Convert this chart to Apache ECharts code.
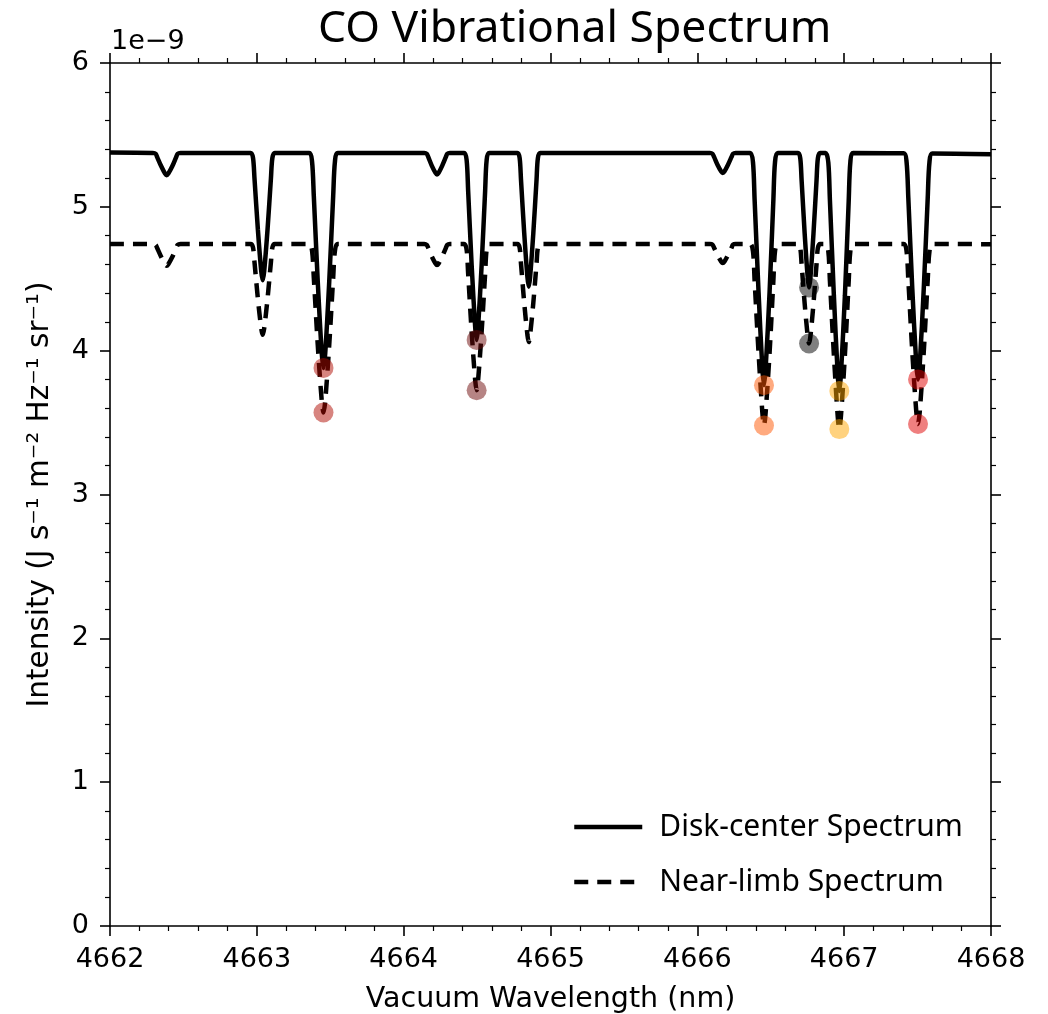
<!DOCTYPE html>
<html>
<head>
<meta charset="utf-8">
<script src="https://cdn.jsdelivr.net/npm/echarts/dist/echarts.min.js"></script>
<style>
html,body{margin:0;padding:0;background:#fff;}
#chart{width:1048px;height:1014px;}
</style>
</head>
<body>
<div id="chart"></div>
<script>
// Wavelength samples (nm) shared by both spectra
const wavelength = [
  4662.000,
  4662.292, 4662.311, 4662.322, 4662.349, 4662.375, 4662.386, 4662.397, 4662.424, 4662.450, 4662.461, 4662.480,
  4662.958, 4662.974, 4662.984, 4663.007, 4663.030, 4663.040, 4663.050, 4663.073, 4663.096, 4663.106, 4663.122,
  4663.357, 4663.376, 4663.388, 4663.415, 4663.442, 4663.454, 4663.466, 4663.493, 4663.520, 4663.532, 4663.551,
  4664.140, 4664.157, 4664.168, 4664.192, 4664.217, 4664.227, 4664.238, 4664.262, 4664.287, 4664.297, 4664.315,
  4664.412, 4664.429, 4664.439, 4664.463, 4664.487, 4664.497, 4664.507, 4664.531, 4664.555, 4664.565, 4664.582,
  4664.775, 4664.790, 4664.799, 4664.821, 4664.843, 4664.852, 4664.861, 4664.883, 4664.905, 4664.914, 4664.930,
  4666.086, 4666.103, 4666.114, 4666.138, 4666.163, 4666.173, 4666.184, 4666.208, 4666.233, 4666.243, 4666.261,
  4666.360, 4666.379, 4666.390, 4666.417, 4666.443, 4666.454, 4666.465, 4666.492, 4666.518, 4666.529, 4666.548,
  4666.686, 4666.701, 4666.710, 4666.731, 4666.752, 4666.761, 4666.770, 4666.791, 4666.812, 4666.821, 4666.836,
  4666.873, 4666.892, 4666.903, 4666.930, 4666.956, 4666.967, 4666.978, 4667.005, 4667.031, 4667.042, 4667.061,
  4667.406, 4667.425, 4667.437, 4667.464, 4667.491, 4667.503, 4667.515, 4667.542, 4667.569, 4667.581, 4667.601,
  4668.000
];
// Disk-center intensity (units of 1e-9 J s^-1 m^-2 Hz^-1 sr^-1)
const diskCenter = [
  5.378,
  5.375, 5.369, 5.344, 5.282, 5.231, 5.220, 5.231, 5.282, 5.344, 5.369, 5.375,
  5.375, 5.340, 5.198, 4.844, 4.552, 4.490, 4.552, 4.844, 5.198, 5.340, 5.375,
  5.375, 5.315, 5.076, 4.478, 3.985, 3.880, 3.985, 4.478, 5.076, 5.315, 5.375,
  5.375, 5.369, 5.345, 5.285, 5.236, 5.225, 5.236, 5.285, 5.345, 5.369, 5.375,
  5.375, 5.323, 5.115, 4.595, 4.166, 4.075, 4.166, 4.595, 5.115, 5.323, 5.375,
  5.375, 5.338, 5.189, 4.817, 4.510, 4.445, 4.510, 4.817, 5.189, 5.338, 5.375,
  5.375, 5.369, 5.347, 5.291, 5.245, 5.235, 5.245, 5.291, 5.347, 5.369, 5.375,
  5.375, 5.310, 5.052, 4.406, 3.873, 3.760, 3.873, 4.406, 5.052, 5.310, 5.375,
  5.375, 5.338, 5.188, 4.814, 4.505, 4.440, 4.505, 4.814, 5.188, 5.338, 5.375,
  5.375, 5.309, 5.044, 4.382, 3.836, 3.720, 3.836, 4.382, 5.044, 5.309, 5.375,
  5.372, 5.312, 5.060, 4.430, 3.910, 3.800, 3.910, 4.430, 5.060, 5.312, 5.370,
  5.365
];
// Near-limb intensity (units of 1e-9)
const nearLimb = [
  4.742,
  4.742, 4.736, 4.712, 4.651, 4.601, 4.590, 4.601, 4.651, 4.712, 4.736, 4.742,
  4.742, 4.717, 4.616, 4.363, 4.154, 4.110, 4.154, 4.363, 4.616, 4.717, 4.742,
  4.742, 4.695, 4.508, 4.039, 3.652, 3.570, 3.652, 4.039, 4.508, 4.695, 4.742,
  4.742, 4.736, 4.713, 4.654, 4.606, 4.596, 4.606, 4.654, 4.713, 4.736, 4.742,
  4.742, 4.701, 4.539, 4.132, 3.796, 3.725, 3.796, 4.132, 4.539, 4.701, 4.742,
  4.742, 4.715, 4.606, 4.333, 4.108, 4.060, 4.108, 4.333, 4.606, 4.715, 4.742,
  4.742, 4.737, 4.716, 4.663, 4.619, 4.610, 4.619, 4.663, 4.716, 4.737, 4.742,
  4.742, 4.692, 4.490, 3.985, 3.568, 3.480, 3.568, 3.985, 4.490, 4.692, 4.742,
  4.742, 4.714, 4.604, 4.327, 4.098, 4.050, 4.098, 4.327, 4.604, 4.714, 4.742,
  4.742, 4.691, 4.485, 3.970, 3.545, 3.455, 3.545, 3.970, 4.485, 4.691, 4.742,
  4.742, 4.692, 4.492, 3.991, 3.578, 3.490, 3.578, 3.991, 4.492, 4.692, 4.742,
  4.740
];
// Marked line cores
const markerWavelength = [4663.454, 4664.497, 4666.454, 4666.761, 4666.967, 4667.503];
const markerDisk = [3.880, 4.075, 3.760, 4.440, 3.720, 3.800];
const markerLimb = [3.570, 3.725, 3.480, 4.050, 3.455, 3.490];
const markerColors = ['#b00a00', '#6e0a0a', '#ff5500', '#000000', '#ffa500', '#e00000'];

const xTicks = {min: 4662, max: 4668, interval: 1};
const yTicks = {min: 0, max: 6, interval: 1};

const diskData = wavelength.map((w, i) => [w, diskCenter[i]]);
const limbData = wavelength.map((w, i) => [w, nearLimb[i]]);
const markerData = [];
markerWavelength.forEach((w, i) => {
  markerData.push({value: [w, markerDisk[i]], itemStyle: {color: markerColors[i]}});
  markerData.push({value: [w, markerLimb[i]], itemStyle: {color: markerColors[i]}});
});

const tickFont = 'DejaVu Sans';
const axisCommon = {
  axisLine: {show: true, onZero: false, lineStyle: {color: '#000', width: 1.6}},
  axisTick: {show: true, inside: false, length: 10, lineStyle: {color: '#000', width: 1.6}},
  minorTick: {show: true, splitNumber: 5, length: 5, lineStyle: {color: '#000', width: 1.2}},
  splitLine: {show: false},
  minorSplitLine: {show: false}
};

const chart = echarts.init(document.getElementById('chart'), null, {renderer: 'canvas'});
chart.setOption({
  backgroundColor: '#fff',
  animation: false,
  title: {
    text: 'CO Vibrational Spectrum',
    left: 313, top: 2,
    textStyle: {fontFamily: 'Noto Sans', fontSize: 44.5, fontWeight: 'normal', color: '#000'}
  },
  grid: {left: 110, right: 57, top: 63, bottom: 88, containLabel: false, outerBoundsMode: 'none'},
  legend: {
    show: true,
    data: ['Disk-center Spectrum', 'Near-limb Spectrum'],
    orient: 'vertical',
    left: 572, top: 812, padding: 0,
    itemWidth: 68, itemHeight: 14, itemGap: 25,
    itemStyle: {opacity: 0, borderWidth: 0},
    lineStyle: {width: 4.5},
    textStyle: {fontFamily: 'Noto Sans', fontSize: 30, color: '#000', padding: [0, 0, 0, 12]}
  },
  xAxis: [
    Object.assign({}, axisCommon, {
      type: 'value', position: 'bottom', min: xTicks.min, max: xTicks.max, interval: xTicks.interval,
      axisLabel: {show: true, fontFamily: tickFont, fontSize: 27, color: '#000', margin: 20,
        formatter: v => String(v)},
      name: 'Vacuum Wavelength (nm)', nameLocation: 'middle', nameGap: 59,
      nameTextStyle: {fontFamily: tickFont, fontSize: 28.5, color: '#000'}
    }),
    Object.assign({}, axisCommon, {
      type: 'value', position: 'top', min: xTicks.min, max: xTicks.max, interval: xTicks.interval,
      axisLabel: {show: false}
    })
  ],
  yAxis: [
    Object.assign({}, axisCommon, {
      type: 'value', position: 'left', min: yTicks.min, max: yTicks.max, interval: yTicks.interval,
      axisLabel: {show: true, fontFamily: tickFont, fontSize: 27, color: '#000', margin: 21,
        formatter: v => String(v)},
      name: 'Intensity (J s\u207B\u00B9 m\u207B\u00B2 Hz\u207B\u00B9 sr\u207B\u00B9)',
      nameLocation: 'middle', nameGap: 55,
      nameTextStyle: {fontFamily: tickFont, fontSize: 29.5, color: '#000'}
    }),
    Object.assign({}, axisCommon, {
      type: 'value', position: 'right', min: yTicks.min, max: yTicks.max, interval: yTicks.interval,
      axisLabel: {show: false}
    })
  ],
  graphic: [{
    type: 'text', left: 111, top: 28,
    style: {text: '1e\u22129', font: '27px "DejaVu Sans"', fill: '#000'}
  }],
  series: [
    {
      name: 'Disk-center Spectrum', type: 'line', data: diskData,
      xAxisIndex: 0, yAxisIndex: 0,
      symbol: 'none', showSymbol: false, smooth: 0.3,
      lineStyle: {color: '#000', width: 4.5, type: 'solid'},
      itemStyle: {color: '#000'}, z: 2
    },
    {
      name: 'Near-limb Spectrum', type: 'line', data: limbData,
      xAxisIndex: 0, yAxisIndex: 0,
      symbol: 'none', showSymbol: false, smooth: 0.3,
      lineStyle: {color: '#000', width: 4.5, type: [14, 9]},
      itemStyle: {color: '#000'}, z: 2
    },
    {
      name: 'cores', type: 'scatter', data: markerData,
      xAxisIndex: 0, yAxisIndex: 0,
      symbol: 'circle', symbolSize: 20,
      itemStyle: {opacity: 0.5}, z: 5, silent: true
    }
  ]
});
</script>
</body>
</html>
